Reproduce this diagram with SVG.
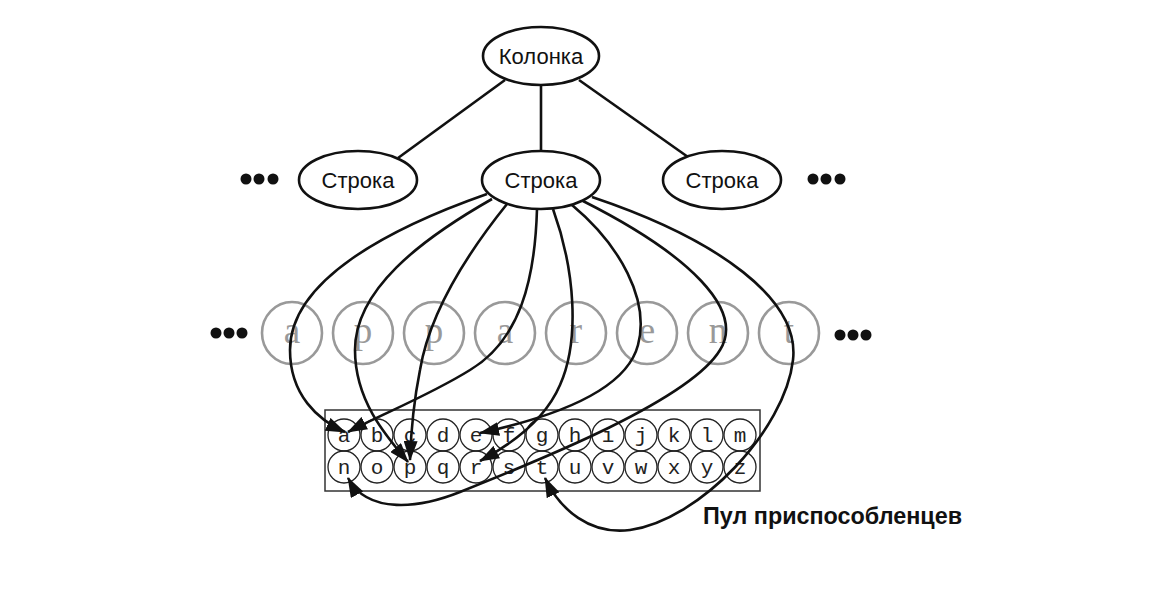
<svg xmlns="http://www.w3.org/2000/svg" width="1170" height="594" viewBox="0 0 1170 594">
<style>
.node{fill:#fff;stroke:#111;stroke-width:2.6}
.nt{font-family:"Liberation Sans",Arial,sans-serif;font-size:22px;fill:#111;text-anchor:middle}
.gc{fill:none;stroke:#999;stroke-width:2.6}
.gt{font-family:"Liberation Serif","Times New Roman",serif;font-size:37px;fill:#999;text-anchor:middle}
.pc{fill:none;stroke:#222;stroke-width:1.3}
.pt{font-family:"Liberation Mono","Courier New",monospace;font-size:21px;fill:#222;text-anchor:middle}
.tree{stroke:#111;stroke-width:2.6;fill:none}
.cv{stroke:#111;stroke-width:2.6;fill:none;marker-end:url(#ah)}
.dot{fill:#111}
</style>
<defs>
<marker id="ah" markerUnits="userSpaceOnUse" markerWidth="22" markerHeight="14" refX="19" refY="7" orient="auto">
<path d="M0,0 L20,7 L0,14 Z" fill="#111"/>
</marker>
</defs>
<rect width="1170" height="594" fill="#fff"/>

<g id="pool">
<rect x="325" y="410" width="435" height="81" fill="none" stroke="#333" stroke-width="1.5"/>
<g id="pool-row1">
<circle class="pc" cx="344" cy="435" r="16"/><text class="pt" x="344" y="442">a</text>
<circle class="pc" cx="377" cy="435" r="16"/><text class="pt" x="377" y="442">b</text>
<circle class="pc" cx="410" cy="435" r="16"/><text class="pt" x="410" y="442">c</text>
<circle class="pc" cx="443" cy="435" r="16"/><text class="pt" x="443" y="442">d</text>
<circle class="pc" cx="476" cy="435" r="16"/><text class="pt" x="476" y="442">e</text>
<circle class="pc" cx="509" cy="435" r="16"/><text class="pt" x="509" y="442">f</text>
<circle class="pc" cx="542" cy="435" r="16"/><text class="pt" x="542" y="442">g</text>
<circle class="pc" cx="575" cy="435" r="16"/><text class="pt" x="575" y="442">h</text>
<circle class="pc" cx="608" cy="435" r="16"/><text class="pt" x="608" y="442">i</text>
<circle class="pc" cx="641" cy="435" r="16"/><text class="pt" x="641" y="442">j</text>
<circle class="pc" cx="674" cy="435" r="16"/><text class="pt" x="674" y="442">k</text>
<circle class="pc" cx="707" cy="435" r="16"/><text class="pt" x="707" y="442">l</text>
<circle class="pc" cx="740" cy="435" r="16"/><text class="pt" x="740" y="442">m</text>
</g>
<g id="pool-row2">
<circle class="pc" cx="344" cy="467" r="16"/><text class="pt" x="344" y="474">n</text>
<circle class="pc" cx="377" cy="467" r="16"/><text class="pt" x="377" y="474">o</text>
<circle class="pc" cx="410" cy="467" r="16"/><text class="pt" x="410" y="474">p</text>
<circle class="pc" cx="443" cy="467" r="16"/><text class="pt" x="443" y="474">q</text>
<circle class="pc" cx="476" cy="467" r="16"/><text class="pt" x="476" y="474">r</text>
<circle class="pc" cx="509" cy="467" r="16"/><text class="pt" x="509" y="474">s</text>
<circle class="pc" cx="542" cy="467" r="16"/><text class="pt" x="542" y="474">t</text>
<circle class="pc" cx="575" cy="467" r="16"/><text class="pt" x="575" y="474">u</text>
<circle class="pc" cx="608" cy="467" r="16"/><text class="pt" x="608" y="474">v</text>
<circle class="pc" cx="641" cy="467" r="16"/><text class="pt" x="641" y="474">w</text>
<circle class="pc" cx="674" cy="467" r="16"/><text class="pt" x="674" y="474">x</text>
<circle class="pc" cx="707" cy="467" r="16"/><text class="pt" x="707" y="474">y</text>
<circle class="pc" cx="740" cy="467" r="16"/><text class="pt" x="740" y="474">z</text>
</g>
<text id="pool-label" x="703" y="524" font-family="'Liberation Sans',Arial,sans-serif" font-weight="bold" font-size="23" fill="#111" textLength="259" lengthAdjust="spacingAndGlyphs">Пул приспособленцев</text>
</g>

<g id="chars">
<g id="ch-a1"><ellipse class="gc" cx="292" cy="333" rx="30" ry="31"/><text class="gt" x="292" y="343">a</text></g>
<g id="ch-p1"><ellipse class="gc" cx="363" cy="333" rx="30" ry="31"/><text class="gt" x="363" y="343">p</text></g>
<g id="ch-p2"><ellipse class="gc" cx="434" cy="333" rx="30" ry="31"/><text class="gt" x="434" y="343">p</text></g>
<g id="ch-a2"><ellipse class="gc" cx="505" cy="333" rx="30" ry="31"/><text class="gt" x="505" y="343">a</text></g>
<g id="ch-r"><ellipse class="gc" cx="576" cy="333" rx="30" ry="31"/><text class="gt" x="576" y="343">r</text></g>
<g id="ch-e"><ellipse class="gc" cx="647" cy="333" rx="30" ry="31"/><text class="gt" x="647" y="343">e</text></g>
<g id="ch-n"><ellipse class="gc" cx="718" cy="333" rx="30" ry="31"/><text class="gt" x="718" y="343">n</text></g>
<g id="ch-t"><ellipse class="gc" cx="789" cy="333" rx="30" ry="31"/><text class="gt" x="789" y="343">t</text></g>
<g id="dots-mid-left"><circle class="dot" cx="216" cy="333" r="5.5"/><circle class="dot" cx="229" cy="333" r="5.5"/><circle class="dot" cx="242" cy="333" r="5.5"/></g>
<g id="dots-mid-right"><circle class="dot" cx="840" cy="335" r="5.5"/><circle class="dot" cx="853" cy="335" r="5.5"/><circle class="dot" cx="866" cy="335" r="5.5"/></g>
</g>

<g id="connectors">
<line class="tree" x1="505" y1="80" x2="398" y2="158"/>
<line class="tree" x1="541" y1="86" x2="541" y2="151"/>
<line class="tree" x1="579" y1="80" x2="688" y2="157"/>
<path class="cv" d="M487,194 C390,228 290,280 290,350 C290,395 318,420 345,432"/>
<path class="cv" d="M492,199 C420,240 355,290 355,350 C355,400 385,435 408,462"/>
<path class="cv" d="M507,204 C470,250 430,310 420,370 C414,400 411,430 410,460"/>
<path class="cv" d="M537,209 C535,280 520,340 470,370 C430,395 380,415 348,432"/>
<path class="cv" d="M553,209 C575,270 580,340 560,385 C545,420 510,445 480,461"/>
<path class="cv" d="M572,205 C620,245 650,300 638,345 C625,395 540,420 480,433"/>
<path class="cv" d="M583,201 C690,255 745,310 720,350 C690,400 540,460 460,492 C420,508 368,515 348,478"/>
<path class="cv" d="M592,197 C720,240 800,300 793,360 C785,430 700,520 630,530 C590,535 560,510 545,478"/>
</g>

<g id="kolonka"><ellipse class="node" cx="541" cy="56" rx="58" ry="29"/><text class="nt" x="541" y="64">Колонка</text></g>
<g id="row-left"><ellipse class="node" cx="358" cy="180" rx="59" ry="29"/><text class="nt" x="358" y="188">Строка</text></g>
<g id="row-mid"><ellipse class="node" cx="541" cy="180" rx="59" ry="29"/><text class="nt" x="541" y="188">Строка</text></g>
<g id="row-right"><ellipse class="node" cx="722" cy="180" rx="59" ry="29"/><text class="nt" x="722" y="188">Строка</text></g>
<g id="dots-top-left"><circle class="dot" cx="246" cy="179" r="5.5"/><circle class="dot" cx="259" cy="179" r="5.5"/><circle class="dot" cx="273" cy="179" r="5.5"/></g>
<g id="dots-top-right"><circle class="dot" cx="813" cy="179" r="5.5"/><circle class="dot" cx="826" cy="179" r="5.5"/><circle class="dot" cx="840" cy="179" r="5.5"/></g>
</svg>
